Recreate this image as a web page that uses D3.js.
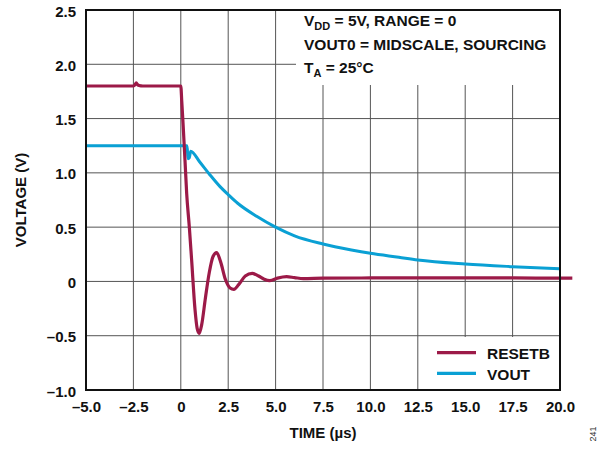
<!DOCTYPE html>
<html><head><meta charset="utf-8">
<script src="https://cdn.jsdelivr.net/npm/d3@7"></script>
<style>
html,body{margin:0;padding:0;background:#fff;}
svg{display:block;font-family:"Liberation Sans",Arial,sans-serif;}
</style></head>
<body><svg id="c" width="608" height="449"></svg>
<script>
// ---- data ----
const xTickValues = [-5, -2.5, 0, 2.5, 5, 7.5, 10, 12.5, 15, 17.5, 20];
const xTickLabels = ["–5.0", "–2.5", "0", "2.5", "5.0", "7.5", "10.0", "12.5", "15.0", "17.5", "20.0"];
const yTickValues = [-1, -0.5, 0, 0.5, 1, 1.5, 2, 2.5];
const yTickLabels = ["–1.0", "–0.5", "0", "0.5", "1.0", "1.5", "2.0", "2.5"];

const resetT = [-5, -3, -2.5, -2.4, -2.35, -2.3, -2.2, -2.0, 0, 0.05, 0.12, 0.22, 0.31, 0.45, 0.57, 0.75, 0.86, 0.97, 1.1, 1.3, 1.5, 1.7, 1.89, 2.1, 2.35, 2.6, 2.8, 3.05, 3.4, 3.77, 4.1, 4.4, 4.7, 5.1, 5.58, 6.0, 6.46, 7.5, 10, 12.5, 15, 17.5, 20, 20.65];
const resetV = [1.80, 1.80, 1.80, 1.815, 1.83, 1.815, 1.805, 1.80, 1.80, 1.66, 1.45, 1.12, 0.81, 0.50, 0.20, -0.26, -0.43, -0.478, -0.40, -0.15, 0.08, 0.23, 0.265, 0.18, 0.02, -0.06, -0.073, -0.03, 0.05, 0.075, 0.05, 0.02, 0.007, 0.03, 0.044, 0.035, 0.026, 0.03, 0.032, 0.033, 0.032, 0.032, 0.03, 0.03];

const voutT = [-5, 0, 0.33, 0.38, 0.45, 0.52, 1.0, 1.5, 2.07, 2.5, 3.0, 4.0, 5.0, 6.0, 7.5, 9.0, 10.0, 11.5, 12.5, 15.0, 17.5, 20.0];
const voutV = [1.25, 1.25, 1.25, 1.13, 1.14, 1.20, 1.10, 0.99, 0.873, 0.80, 0.72, 0.60, 0.50, 0.42, 0.345, 0.29, 0.259, 0.222, 0.197, 0.16, 0.136, 0.117];

const seriesNames = ["RESETB", "VOUT"];
const seriesColors = ["#9c1a48", "#0aa0d4"];

// ---- layout ----
const svg = d3.select("#c");
const L = 86, R = 560, T = 10, B = 390;
const x = d3.scaleLinear().domain([-5, 20]).range([L, R]);
const y = d3.scaleLinear().domain([-1, 2.5]).range([B, T]);
const FONT = "Liberation Sans, Arial, sans-serif";

// grid
const g = svg.append("g");
g.selectAll(".vg").data(xTickValues.slice(1, -1)).enter().append("line")
  .attr("x1", d => x(d)).attr("x2", d => x(d)).attr("y1", T).attr("y2", B)
  .attr("stroke", "#555").attr("stroke-width", 1);
g.selectAll(".hg").data(yTickValues.slice(1, -1)).enter().append("line")
  .attr("y1", d => y(d)).attr("y2", d => y(d)).attr("x1", L).attr("x2", R)
  .attr("stroke", "#555").attr("stroke-width", 1);

// white boxes (annotation + legend)
svg.append("rect").attr("x", 296).attr("y", T).attr("width", R - 296).attr("height", 75).attr("fill", "#fff");
svg.append("rect").attr("x", 420).attr("y", 337).attr("width", R - 420).attr("height", B - 337).attr("fill", "#fff");

// lines
const line = d3.line().curve(d3.curveMonotoneX).x(d => x(d[0])).y(d => y(d[1]));
svg.append("path").datum(voutT.map((t, i) => [t, voutV[i]]))
  .attr("d", line).attr("fill", "none").attr("stroke", seriesColors[1]).attr("stroke-width", 3).attr("stroke-linejoin", "round");
svg.append("path").datum(resetT.map((t, i) => [t, resetV[i]]))
  .attr("d", line).attr("fill", "none").attr("stroke", seriesColors[0]).attr("stroke-width", 3.2).attr("stroke-linejoin", "round");

// frame
svg.append("rect").attr("x", L).attr("y", T).attr("width", R - L).attr("height", B - T)
  .attr("fill", "none").attr("stroke", "#111").attr("stroke-width", 2);

// axes
const xAxis = d3.axisBottom(x).tickValues(xTickValues)
  .tickFormat((d, i) => xTickLabels[i]).tickSize(0).tickPadding(11);
const xa = svg.append("g").attr("transform", `translate(0,${B})`).call(xAxis);
xa.select(".domain").remove();
xa.selectAll("text").attr("font-size", 15).attr("font-weight", "bold").attr("fill", "#111")
  .attr("font-family", FONT);

const yAxis = d3.axisLeft(y).tickValues(yTickValues)
  .tickFormat((d, i) => yTickLabels[i]).tickSize(0).tickPadding(10);
const ya = svg.append("g").attr("transform", `translate(${L},0)`).call(yAxis);
ya.select(".domain").remove();
ya.selectAll("text").attr("font-size", 15).attr("font-weight", "bold").attr("fill", "#111")
  .attr("font-family", FONT).attr("dy", "0.4em");

// axis titles
svg.append("text").attr("x", (L + R) / 2).attr("y", 438).attr("text-anchor", "middle")
  .attr("font-size", 15).attr("font-weight", "bold").attr("fill", "#111").text("TIME (µs)");
svg.append("text").attr("transform", `translate(26,${(T + B) / 2}) rotate(-90)`).attr("text-anchor", "middle")
  .attr("font-size", 15).attr("font-weight", "bold").attr("fill", "#111").text("VOLTAGE (V)");

// annotation
const ann = svg.append("g").attr("font-size", 15.5).attr("font-weight", "bold").attr("fill", "#111");
const t1 = ann.append("text").attr("x", 304).attr("y", 26);
t1.append("tspan").text("V");
t1.append("tspan").attr("font-size", 11).attr("dy", 4).text("DD");
t1.append("tspan").attr("dy", -4).text(" = 5V, RANGE = 0");
ann.append("text").attr("x", 304).attr("y", 49.5).text("VOUT0 = MIDSCALE, SOURCING");
const t3 = ann.append("text").attr("x", 304).attr("y", 72.5);
t3.append("tspan").text("T");
t3.append("tspan").attr("font-size", 11).attr("dy", 4).text("A");
t3.append("tspan").attr("dy", -4).text(" = 25°C");

// legend
const lg = svg.append("g");
seriesNames.forEach((n, i) => {
  const yy = 352.7 + i * 20.6;
  lg.append("line").attr("x1", 437).attr("x2", 476).attr("y1", yy).attr("y2", yy)
    .attr("stroke", seriesColors[i]).attr("stroke-width", 3.2);
  lg.append("text").attr("x", 487).attr("y", yy + 6.6).attr("font-size", 15.5).attr("font-weight", "bold")
    .attr("fill", "#111").text(n);
});

// figure number
svg.append("text").attr("transform", "translate(596,434) rotate(-90)").attr("text-anchor", "middle")
  .attr("font-size", 9).attr("fill", "#333").text("241");
</script></body></html>
